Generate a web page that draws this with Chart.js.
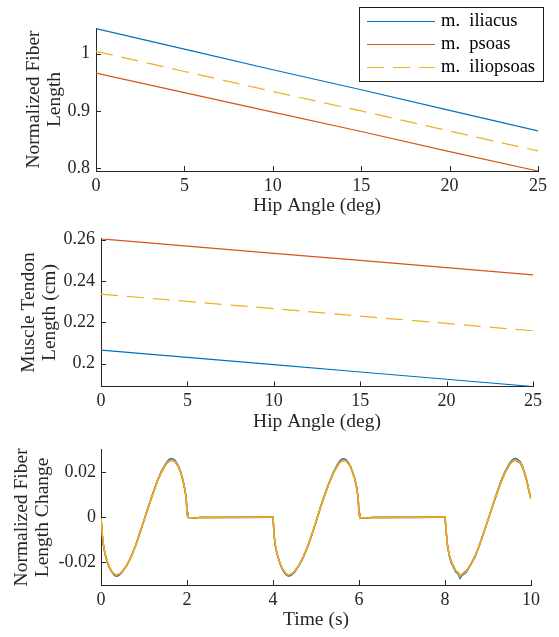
<!DOCTYPE html>
<html>
<head>
<meta charset="utf-8">
<script src="https://cdn.jsdelivr.net/npm/chart.js@4.4.1/dist/chart.umd.min.js"></script>
<style>
  html, body { margin: 0; padding: 0; background: #fff; }
  body { width: 559px; height: 637px; position: relative; overflow: hidden; }
  canvas { position: absolute; left: 0; }
</style>
</head>
<body>
<canvas id="fiber"></canvas>
<canvas id="tendon"></canvas>
<canvas id="change"></canvas>
<script>
// ---- data ----
const muscleNames = ['m.  iliacus', 'm.  psoas', 'm.  iliopsoas'];

const hipAngle = [0, 5, 10, 15, 20, 25];
const fiberIliacus   = [1.044, 1.008, 0.972, 0.937, 0.901, 0.865];
const fiberPsoas     = [0.966, 0.932, 0.898, 0.864, 0.829, 0.795];
const fiberIliopsoas = [1.004, 0.969, 0.934, 0.900, 0.865, 0.830];

const tendonIliacus   = [0.2066, 0.2031, 0.1996, 0.1960, 0.1925, 0.1890];
const tendonPsoas     = [0.2603, 0.2568, 0.2533, 0.2499, 0.2464, 0.2429];
const tendonIliopsoas = [0.2336, 0.2301, 0.2266, 0.2230, 0.2195, 0.2159];

const timeS = [
  0, 0.03, 0.06, 0.1, 0.15, 0.2, 0.25, 0.3, 0.35, 0.4, 0.45, 0.5, 0.6, 0.7, 0.8, 0.9, 1.0, 1.1, 1.2, 1.3, 1.4,
  1.5, 1.55, 1.6, 1.65, 1.7, 1.75, 1.8, 1.85, 1.9, 1.95, 1.98, 2.0, 2.02, 2.1, 2.2, 2.25, 2.3, 2.5, 3.0, 3.5, 3.98,
  4.0, 4.03, 4.06, 4.1, 4.15, 4.2, 4.25, 4.3, 4.35, 4.4, 4.45, 4.5, 4.6, 4.7, 4.8, 4.9, 5.0, 5.1, 5.2, 5.3, 5.4,
  5.5, 5.55, 5.6, 5.65, 5.7, 5.75, 5.8, 5.85, 5.9, 5.95, 5.98, 6.0, 6.02, 6.1, 6.2, 6.25, 6.3, 6.5, 7.0, 7.5, 7.98,
  8.0, 8.03, 8.06, 8.1, 8.15, 8.2, 8.25, 8.3, 8.35, 8.4, 8.45, 8.5, 8.6, 8.7, 8.8, 8.9, 9.0, 9.1, 9.2, 9.3, 9.4,
  9.5, 9.55, 9.6, 9.65, 9.7, 9.75, 9.8, 9.85, 9.9, 9.95, 10.0
];
const changeIliacus = [
  0, -0.0078, -0.0127, -0.0166, -0.0199, -0.0224, -0.0241, -0.0254, -0.0261, -0.0259, -0.0251, -0.0241, -0.0213, -0.0176, -0.0128, -0.0073, -0.0013, 0.0047, 0.0104, 0.0157, 0.0203,
  0.0237, 0.0250, 0.0259, 0.0260, 0.0256, 0.0245, 0.0228, 0.0204, 0.0171, 0.0126, 0.0089, 0.0024, 0.0000, -0.0001, -0.0003, -0.0002, 0.0001, 0.0000, 0.0000, 0.0001, 0.0002,
  0.0002, -0.0087, -0.0133, -0.0165, -0.0197, -0.0223, -0.0240, -0.0253, -0.0260, -0.0259, -0.0252, -0.0243, -0.0215, -0.0180, -0.0133, -0.0080, -0.0019, 0.0044, 0.0100, 0.0153, 0.0199,
  0.0235, 0.0249, 0.0258, 0.0260, 0.0255, 0.0244, 0.0228, 0.0203, 0.0174, 0.0130, 0.0087, 0.0021, -0.0001, -0.0002, -0.0002, -0.0001, 0.0000, 0.0001, 0.0000, 0.0001, 0.0003,
  0.0002, -0.0067, -0.0128, -0.0172, -0.0203, -0.0222, -0.0242, -0.0250, -0.0270, -0.0256, -0.0251, -0.0242, -0.0209, -0.0175, -0.0124, -0.0069, -0.0011, 0.0049, 0.0106, 0.0160, 0.0206,
  0.0240, 0.0252, 0.0259, 0.0261, 0.0255, 0.0247, 0.0228, 0.0198, 0.0166, 0.0122, 0.0083
];
const changePsoas = [
  0, -0.0080, -0.0128, -0.0168, -0.0200, -0.0224, -0.0240, -0.0251, -0.0256, -0.0253, -0.0249, -0.0238, -0.0213, -0.0173, -0.0126, -0.0070, -0.0014, 0.0044, 0.0100, 0.0156, 0.0198,
  0.0232, 0.0244, 0.0251, 0.0253, 0.0250, 0.0240, 0.0224, 0.0200, 0.0167, 0.0122, 0.0086, 0.0022, -0.0001, -0.0002, -0.0005, -0.0003, 0.0000, 0.0000, 0.0001, 0.0000, 0.0001,
  0.0001, -0.0088, -0.0131, -0.0166, -0.0196, -0.0221, -0.0237, -0.0250, -0.0256, -0.0253, -0.0249, -0.0239, -0.0214, -0.0176, -0.0132, -0.0076, -0.0020, 0.0041, 0.0097, 0.0148, 0.0195,
  0.0229, 0.0243, 0.0250, 0.0253, 0.0250, 0.0239, 0.0225, 0.0199, 0.0170, 0.0125, 0.0083, 0.0018, -0.0002, -0.0003, -0.0004, -0.0002, 0.0000, 0.0000, 0.0001, 0.0000, 0.0002,
  0.0001, -0.0070, -0.0127, -0.0166, -0.0200, -0.0216, -0.0238, -0.0244, -0.0258, -0.0252, -0.0243, -0.0236, -0.0208, -0.0170, -0.0124, -0.0066, -0.0012, 0.0046, 0.0101, 0.0155, 0.0200,
  0.0233, 0.0245, 0.0252, 0.0253, 0.0246, 0.0241, 0.0222, 0.0194, 0.0161, 0.0118, 0.0081
];
const changeIliopsoas = [
  0, -0.0075, -0.0125, -0.0165, -0.0198, -0.0222, -0.0238, -0.0250, -0.0256, -0.0254, -0.0249, -0.0240, -0.0212, -0.0175, -0.0128, -0.0072, -0.0012, 0.0046, 0.0102, 0.0155, 0.0200,
  0.0234, 0.0246, 0.0253, 0.0255, 0.0251, 0.0242, 0.0226, 0.0203, 0.0170, 0.0125, 0.0088, 0.0025, 0.0000, -0.0001, -0.0004, -0.0002, 0.0000, 0.0001, 0.0000, 0.0001, 0.0002,
  0.0002, -0.0085, -0.0130, -0.0163, -0.0195, -0.0220, -0.0236, -0.0249, -0.0255, -0.0254, -0.0248, -0.0240, -0.0213, -0.0178, -0.0131, -0.0078, -0.0018, 0.0043, 0.0098, 0.0150, 0.0196,
  0.0231, 0.0244, 0.0252, 0.0255, 0.0251, 0.0241, 0.0226, 0.0201, 0.0172, 0.0128, 0.0085, 0.0020, -0.0001, -0.0002, -0.0003, -0.0001, 0.0000, 0.0001, 0.0000, 0.0001, 0.0003,
  0.0002, -0.0065, -0.0125, -0.0168, -0.0198, -0.0218, -0.0236, -0.0246, -0.0262, -0.0250, -0.0247, -0.0238, -0.0206, -0.0172, -0.0122, -0.0068, -0.0010, 0.0048, 0.0104, 0.0157, 0.0202,
  0.0235, 0.0247, 0.0254, 0.0256, 0.0250, 0.0243, 0.0225, 0.0196, 0.0164, 0.0120, 0.0082
];

const angleTicks = [0, 5, 10, 15, 20, 25];
const angleTickLabels = ['0', '5', '10', '15', '20', '25'];
const timeTicks = [0, 2, 4, 6, 8, 10];
const timeTickLabels = ['0', '2', '4', '6', '8', '10'];
const fiberTicks = [0.8, 0.9, 1];
const fiberTickLabels = ['0.8', '0.9', '1'];
const tendonTicks = [0.2, 0.22, 0.24, 0.26];
const tendonTickLabels = ['0.2', '0.22', '0.24', '0.26'];
const changeTicks = [-0.02, 0, 0.02];
const changeTickLabels = ['-0.02', '0', '0.02'];

// ---- style ----
const BLUE = '#0072BD';
const RED = '#D95319';
const YELLOW = '#EDB120';
const AXIS = '#262626';
const FONT = '"Liberation Serif", "Times New Roman", serif';
const DASH = [17, 9];

Chart.defaults.font.family = FONT;
Chart.defaults.font.size = 18;
Chart.defaults.color = AXIS;

function points(xs, ys) {
  return xs.map((x, i) => ({ x, y: ys[i] }));
}

// MATLAB style ticks pointing into the axes
const inwardTicks = {
  id: 'inwardTicks',
  afterDraw(chart) {
    const { ctx, chartArea: a, scales } = chart;
    ctx.save();
    ctx.strokeStyle = AXIS;
    ctx.lineWidth = 1;
    ctx.beginPath();
    scales.x.ticks.forEach(t => {
      const px = Math.round(scales.x.getPixelForValue(t.value)) + 0.5;
      ctx.moveTo(px, a.bottom);
      ctx.lineTo(px, a.bottom - 5);
    });
    scales.y.ticks.forEach(t => {
      const py = Math.round(scales.y.getPixelForValue(t.value)) + 0.5;
      ctx.moveTo(a.left, py);
      ctx.lineTo(a.left + 5, py);
    });
    ctx.stroke();
    ctx.restore();
  }
};

// boxed legend in the top right, like the MATLAB one
const boxLegend = {
  id: 'boxLegend',
  afterDraw(chart) {
    const { ctx } = chart;
    const box = { x: 359.5, y: 7.5, w: 184, h: 74 };
    ctx.save();
    ctx.fillStyle = '#fff';
    ctx.fillRect(box.x, box.y, box.w, box.h);
    ctx.strokeStyle = '#1a1a1a';
    ctx.lineWidth = 1;
    ctx.strokeRect(box.x, box.y, box.w, box.h);
    chart.data.datasets.forEach((ds, i) => {
      const y = 21.5 + i * 23;
      ctx.strokeStyle = ds.borderColor;
      ctx.lineWidth = 1.2;
      ctx.setLineDash(ds.borderDash || []);
      ctx.beginPath();
      ctx.moveTo(367, y);
      ctx.lineTo(435, y);
      ctx.stroke();
      ctx.setLineDash([]);
      ctx.fillStyle = '#000';
      ctx.font = '18.5px ' + FONT;
      ctx.textBaseline = 'middle';
      ctx.textAlign = 'left';
      ctx.fillText(ds.label, 441, y);
    });
    ctx.restore();
  }
};

// positions are absolute page pixels; the canvas is placed and the plot area fitted to them
function makeChart(id, cfg) {
  const canvas = document.getElementById(id);
  const W = 559;
  const H = Math.round(cfg.areaBottom + 47 - cfg.canvasTop);
  canvas.width = W;
  canvas.height = H;
  canvas.style.top = cfg.canvasTop + 'px';
  const xHeight = H - (cfg.areaBottom - cfg.canvasTop);
  return new Chart(canvas.getContext('2d'), {
    type: 'line',
    data: { datasets: cfg.datasets },
    options: {
      responsive: false,
      animation: false,
      layout: { padding: { top: cfg.areaTop - cfg.canvasTop, right: W - cfg.areaRight, left: 0, bottom: 0 } },
      plugins: { legend: { display: false }, tooltip: { enabled: false } },
      elements: { point: { radius: 0 }, line: { tension: 0 } },
      scales: {
        x: {
          type: 'linear',
          min: cfg.xMin, max: cfg.xMax,
          afterFit: s => { s.height = xHeight; },
          afterBuildTicks: s => { s.ticks = cfg.xTicks.map(v => ({ value: v })); },
          ticks: {
            callback: (v, i) => cfg.xTickLabels[i],
            padding: 4, maxRotation: 0, autoSkip: false, color: AXIS
          },
          grid: { display: false, drawTicks: false },
          border: { color: AXIS, width: 1 },
          title: {
            display: true, text: cfg.xTitle, color: AXIS,
            font: { size: 19.5, lineHeight: 1.2 },
            padding: { top: 0, bottom: 0 }
          }
        },
        y: {
          type: 'linear',
          min: cfg.yMin, max: cfg.yMax,
          afterFit: s => { s.width = cfg.areaLeft; },
          afterBuildTicks: s => { s.ticks = cfg.yTicks.map(v => ({ value: v })); },
          ticks: {
            callback: (v, i) => cfg.yTickLabels[i],
            padding: cfg.yTickPad, autoSkip: false, color: AXIS
          },
          grid: { display: false, drawTicks: false },
          border: { color: AXIS, width: 1 },
          title: {
            display: true, text: cfg.yTitle, color: AXIS,
            font: { size: 19.5, lineHeight: 1.08 },
            padding: { top: cfg.yTitlePad, bottom: 0 }
          }
        }
      }
    },
    plugins: [inwardTicks].concat(cfg.extra || [])
  });
}

makeChart('fiber', {
  canvasTop: 0, areaTop: 28, areaBottom: 171, areaLeft: 96, areaRight: 538,
  xMin: 0, xMax: 25, xTicks: angleTicks, xTickLabels: angleTickLabels, xTitle: 'Hip Angle (deg)',
  yMin: 0.795, yMax: 1.045, yTicks: fiberTicks, yTickLabels: fiberTickLabels, yTickPad: 6,
  yTitle: ['Normalized Fiber', 'Length'], yTitlePad: 23,
  datasets: [
    { label: muscleNames[0], data: points(hipAngle, fiberIliacus), borderColor: BLUE, borderWidth: 1.2, order: 2 },
    { label: muscleNames[1], data: points(hipAngle, fiberPsoas), borderColor: RED, borderWidth: 1.2, order: 1 },
    { label: muscleNames[2], data: points(hipAngle, fiberIliopsoas), borderColor: YELLOW, borderWidth: 1.2, borderDash: DASH, order: 0 }
  ],
  extra: [boxLegend]
});

makeChart('tendon', {
  canvasTop: 218, areaTop: 238.5, areaBottom: 386.5, areaLeft: 101, areaRight: 533,
  xMin: 0, xMax: 25, xTicks: angleTicks, xTickLabels: angleTickLabels, xTitle: 'Hip Angle (deg)',
  yMin: 0.189, yMax: 0.2605, yTicks: tendonTicks, yTickLabels: tendonTickLabels, yTickPad: 6,
  yTitle: ['Muscle Tendon', 'Length (cm)'], yTitlePad: 18,
  datasets: [
    { label: muscleNames[0], data: points(hipAngle, tendonIliacus), borderColor: BLUE, borderWidth: 1.2, order: 2 },
    { label: muscleNames[1], data: points(hipAngle, tendonPsoas), borderColor: RED, borderWidth: 1.2, order: 1 },
    { label: muscleNames[2], data: points(hipAngle, tendonIliopsoas), borderColor: YELLOW, borderWidth: 1.2, borderDash: DASH, order: 0 }
  ]
});

makeChart('change', {
  canvasTop: 434, areaTop: 440, areaBottom: 585, areaLeft: 101, areaRight: 531,
  xMin: 0, xMax: 10, xTicks: timeTicks, xTickLabels: timeTickLabels, xTitle: 'Time (s)',
  yMin: -0.03, yMax: 0.03, yTicks: changeTicks, yTickLabels: changeTickLabels, yTickPad: 5,
  yTitle: ['Normalized Fiber', 'Length Change'], yTitlePad: 11,
  datasets: [
    { label: muscleNames[0], data: points(timeS, changeIliacus), borderColor: BLUE, borderWidth: 1.5, order: 2 },
    { label: muscleNames[1], data: points(timeS, changePsoas), borderColor: RED, borderWidth: 1.5, order: 1 },
    { label: muscleNames[2], data: points(timeS, changeIliopsoas), borderColor: YELLOW, borderWidth: 1.5, order: 0 }
  ]
});
</script>
</body>
</html>
